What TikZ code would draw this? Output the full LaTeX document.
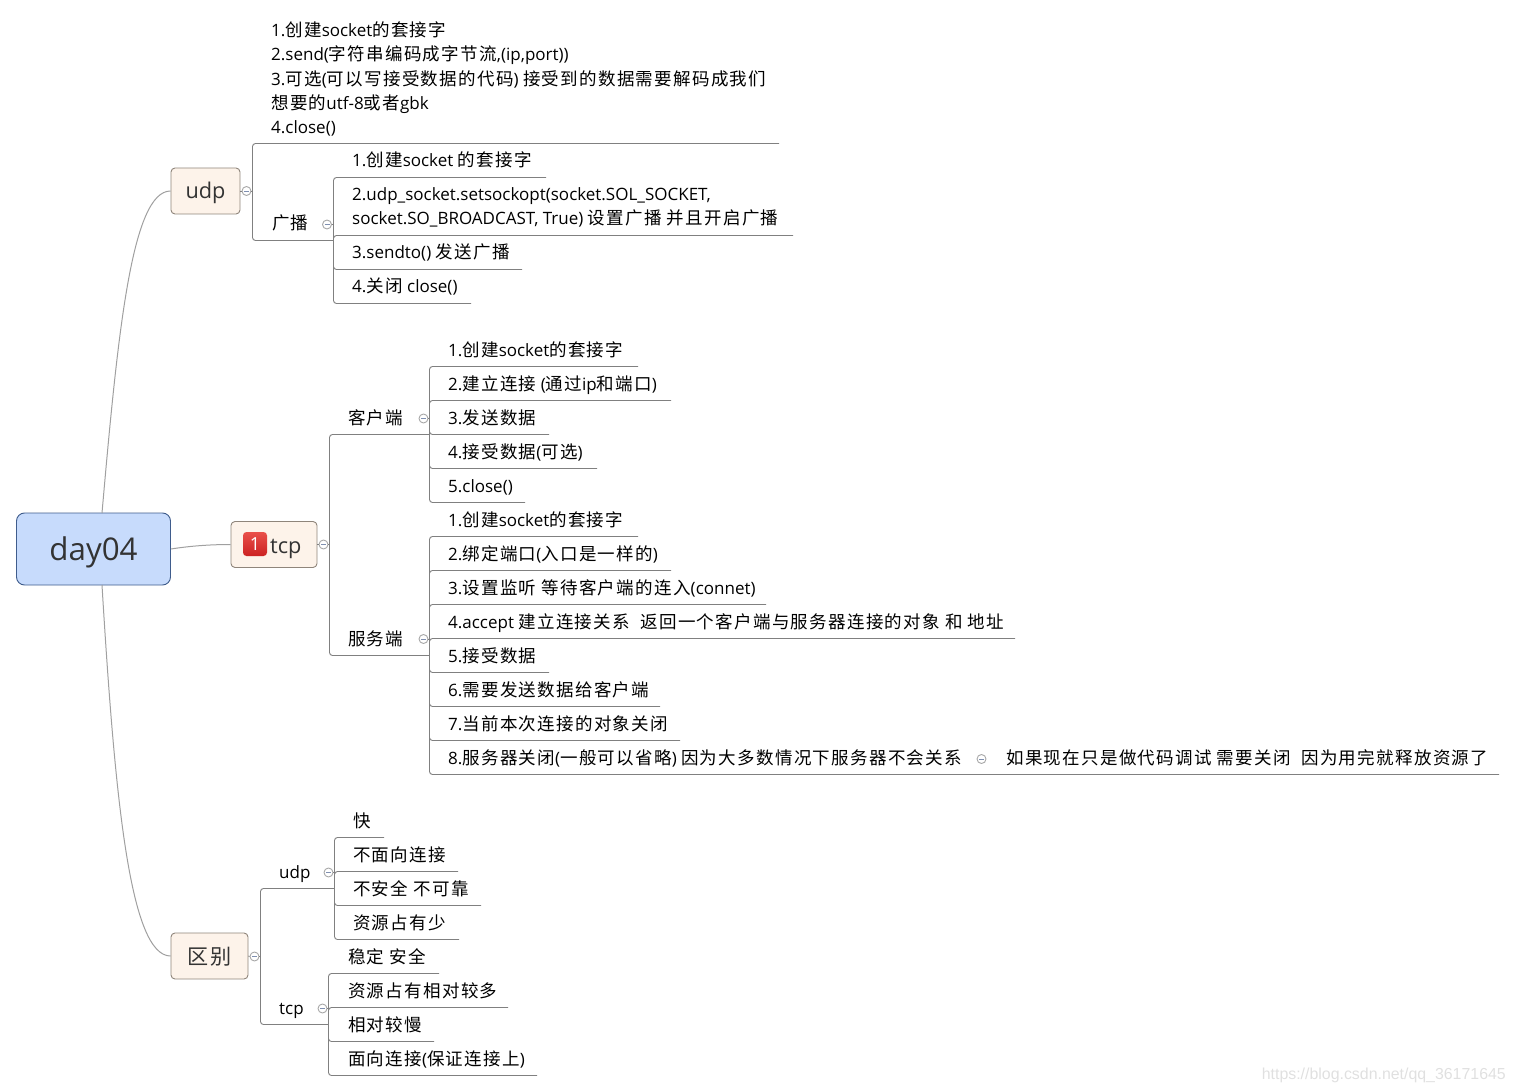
\documentclass[tikz,border=0pt]{standalone}
\usepackage{fontspec}
\setmainfont{Open Sans}
\newfontfamily\cjk[Scale=1.03,LetterSpace=7.4]{Noto Sans CJK SC}
\newfontfamily\wmfont{Liberation Sans}
\newcommand{\C}[1]{{\cjk #1}}
\definecolor{linegray}{HTML}{808080}
\definecolor{curvegray}{HTML}{A0A0A0}
\definecolor{rootfill}{HTML}{C7DBFC}
\definecolor{rootline}{HTML}{3F5C8C}
\definecolor{topicfill}{HTML}{FDF3EA}
\definecolor{topicline}{HTML}{8F857B}
\definecolor{inktext}{HTML}{333333}
\definecolor{foldline}{HTML}{A8A8A8}
\definecolor{foldminus}{HTML}{7F8FB0}
\definecolor{badgetop}{HTML}{E9504A}
\definecolor{badgebottom}{HTML}{CC2222}
\definecolor{wmgray}{HTML}{E0E0E0}
\tikzset{
  conn/.style={draw=linegray,line width=0.9pt,rounded corners=3pt},
  curve/.style={draw=curvegray,line width=1pt},
  roottopic/.style={draw=rootline,fill=rootfill,rounded corners=8pt,line width=0.9pt,inner sep=0pt,
    minimum width=154pt,minimum height=72pt,text=inktext,font=\fontsize{31.3}{36}\selectfont},
  maintopic/.style={draw=topicline,fill=topicfill,rounded corners=4pt,line width=0.9pt,inner sep=0pt,
    minimum height=46pt,text=inktext,font=\fontsize{21.7}{26}\selectfont},
  leaf/.style={anchor=base west,inner sep=0pt,text=black,font=\fontsize{17}{24.2}\selectfont},
  block/.style={anchor=west,align=left,inner sep=0pt,text=black,font=\fontsize{17}{24.2}\selectfont},
  fold/.style={circle,draw=foldline,fill=white,line width=0.9pt,minimum size=9pt,inner sep=0pt,
    path picture={\draw[foldminus,line width=0.8pt]
      ([xshift=-2.5pt]path picture bounding box.center)--([xshift=2.5pt]path picture bounding box.center);}},
  badge/.style={top color=badgetop,bottom color=badgebottom,rounded corners=3.5pt,minimum size=24pt,inner sep=0pt,text=white,
    font=\fontsize{18}{18}\selectfont},
}
% name, junction, text x, text centre y, underline end x
\newcommand{\leaf}[6]{%
  \node[leaf] (#1) at (#3,#4+7) {#6};
  \coordinate (#1-e) at (#5,#4+17.5);
  \draw[conn] (#2) |- (#1-e);
}
\begin{document}
\begin{tikzpicture}[x=1pt,y=-1pt]
\useasboundingbox (0,0) rectangle (1515,1091);

% main topics
\node[roottopic] (root) at (93.5,549) {\raisebox{-11pt}[0pt][0pt]{day04}};
\node[maintopic,minimum width=69pt] (udp) at (205.5,191) {\raisebox{-8pt}[0pt][0pt]{udp}};
\node[maintopic,minimum width=86pt] (tcp) at (274,544.5) {};
\node[badge] (one) at (255,544) {1};
\node[anchor=base west,inner sep=0pt,text=inktext,font=\fontsize{21.7}{26}\selectfont] (tcplabel) at (270,553.5) {tcp};
\node[maintopic,minimum width=77pt] (diff) at (209.5,956) {\fontsize{20.5}{26}\selectfont\raisebox{-8pt}[0pt][0pt]{\C{区别}}};

% root curves
\coordinate (rootU) at (102,513);
\coordinate (rootD) at (102,585);
\draw[curve] (rootU) .. controls (118,330) and (132,191) .. (udp.west);
\draw[curve] (root.east) .. controls (190,546) and (210,544.5) .. (tcp.west);
\draw[curve] (rootD) .. controls (115,800) and (130,956) .. (diff.west);

% udp branch
\node[fold] (fU) at (246.5,191) {};
\coordinate (jU) at (252.5,191);
\draw[conn] (udp.east) -- (fU.west);
\draw[conn] (fU.east) -- (jU);
\node[block] (uBlock) at (271,79) {1.\C{创建}socket\C{的套接字}\\2.send(\C{字符串编码成字节流},(ip,port))\\3.\C{可选}(\C{可以写接受数据的代码}) \C{接受到的数据需要解码成我们}\\\C{想要的}utf-8\C{或者}gbk\\4.close()};
\coordinate (uBlock-e) at (779,143.5);
\draw[conn] (jU) |- (uBlock-e);
\node[leaf] (guang) at (272,230) {\C{广播}};
\node[fold] (fG) at (327,224.5) {};
\coordinate (jG) at (333.5,240.5);
\coordinate (jGtop) at (333.5,224.5);
\draw[conn] (jU) |- (jG);
\draw[conn] (fG.east) -- (jGtop);
\leaf{g1}{jG}{352}{160}{546}{1.\C{创建}socket \C{的套接字}}
\node[block] (g2) at (352,207) {2.udp\_socket.setsockopt(socket.SOL\_SOCKET,\\socket.SO\_BROADCAST, True) \C{设置广播 并且开启广播}};
\coordinate (g2-e) at (793,235.5);
\draw[conn] (jG) |- (g2-e);
\leaf{g3}{jG}{352}{252}{522}{3.sendto() \C{发送广播}}
\leaf{g4}{jG}{352}{286}{471}{4.\C{关闭} close()}

% tcp branch
\node[fold] (fT) at (323.5,544.5) {};
\coordinate (jT) at (329.5,544.5);
\draw[conn] (tcp.east) -- (fT.west);
\draw[conn] (fT.east) -- (jT);
\coordinate (jC) at (429.5,434.5);
\coordinate (jS) at (429.5,655.5);
\draw[conn] (jT) |- (jC);
\draw[conn] (jT) |- (jS);
\node[leaf] (client) at (348,424) {\C{客户端}};
\node[fold] (fC) at (423.5,418.5) {};
\coordinate (jCf) at (429.5,418.5);
\draw[conn] (fC.east) -- (jCf);
\node[leaf] (server) at (348,645) {\C{服务端}};
\node[fold] (fS) at (423.5,639) {};
\coordinate (jSf) at (429.5,639);
\draw[conn] (fS.east) -- (jSf);
\leaf{c1}{jC}{448}{349}{638}{1.\C{创建}socket\C{的套接字}}
\leaf{c2}{jC}{448}{383}{671}{2.\C{建立连接} (\C{通过}ip\C{和端口})}
\leaf{c3}{jC}{448}{417}{549}{3.\C{发送数据}}
\leaf{c4}{jC}{448}{451}{597}{4.\C{接受数据}(\C{可选})}
\leaf{c5}{jC}{448}{485}{525}{5.close()}
\leaf{s1}{jS}{448}{519}{638}{1.\C{创建}socket\C{的套接字}}
\leaf{s2}{jS}{448}{553}{671}{2.\C{绑定端口}(\C{入口是一样的})}
\leaf{s3}{jS}{448}{587}{766}{3.\C{设置监听 等待客户端的连入}(connet)}
\leaf{s4}{jS}{448}{621}{1015}{4.accept \C{建立连接关系 \ 返回一个客户端与服务器连接的对象 和 地址}}
\leaf{s5}{jS}{448}{655}{549}{5.\C{接受数据}}
\leaf{s6}{jS}{448}{689}{660}{6.\C{需要发送数据给客户端}}
\leaf{s7}{jS}{448}{723}{680}{7.\C{当前本次连接的对象关闭}}
\leaf{s8}{jS}{448}{757}{1499}{8.\C{服务器关闭}(\C{一般可以省略}) \C{因为大多数情况下服务器不会关系}}
\node[fold] (fS8) at (981.5,759) {};
\node[leaf] (s8note) at (1006,764) {\C{如果现在只是做代码调试 需要关闭 \ 因为用完就释放资源了}};

% difference branch
\node[fold] (fD) at (254.5,956.5) {};
\coordinate (jD) at (260.5,956.5);
\draw[conn] (diff.east) -- (fD.west);
\draw[conn] (fD.east) -- (jD);
\coordinate (jDU) at (334.5,888.5);
\coordinate (jDT) at (328.5,1024.5);
\draw[conn] (jD) |- (jDU);
\draw[conn] (jD) |- (jDT);
\node[leaf] (dUdp) at (279,878) {udp};
\node[fold] (fDU) at (328.5,872.5) {};
\coordinate (jDUf) at (334.5,872.5);
\draw[conn] (fDU.east) -- (jDUf);
\node[leaf] (dTcp) at (279,1014) {tcp};
\node[fold] (fDT) at (322.5,1008.5) {};
\coordinate (jDTf) at (328.5,1008.5);
\draw[conn] (fDT.east) -- (jDTf);
\leaf{u1}{jDU}{353}{820}{384}{\C{快}}
\leaf{u2}{jDU}{353}{854}{458}{\C{不面向连接}}
\leaf{u3}{jDU}{353}{888}{481}{\C{不安全 不可靠}}
\leaf{u4}{jDU}{353}{922}{459}{\C{资源占有少}}
\leaf{t1}{jDT}{348}{956}{439}{\C{稳定 安全}}
\leaf{t2}{jDT}{348}{990}{508}{\C{资源占有相对较多}}
\leaf{t3}{jDT}{348}{1024}{434}{\C{相对较慢}}
\leaf{t4}{jDT}{348}{1058}{537}{\C{面向连接}(\C{保证连接上})}

% watermark
\node[anchor=base east,inner sep=0pt,text=wmgray,font=\wmfont\fontsize{15.9}{18}\selectfont] (wm) at (1506,1079) {https://blog.csdn.net/qq\_36171645};
\end{tikzpicture}
\end{document}
